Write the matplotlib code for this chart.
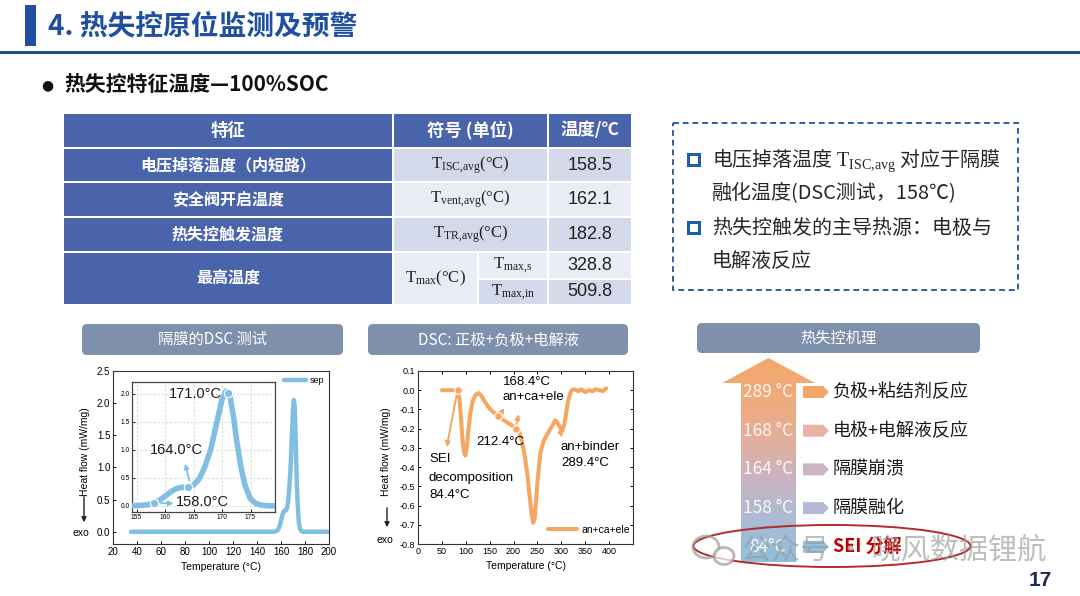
import numpy as np
import matplotlib
matplotlib.use('Agg')
import matplotlib.pyplot as plt
from matplotlib.patches import Rectangle, FancyBboxPatch, Polygon, Ellipse
from matplotlib.colors import LinearSegmentedColormap
from matplotlib.ticker import FormatStrFormatter

plt.rcParams['font.family'] = ['Noto Sans CJK SC', 'DejaVu Sans']
plt.rcParams['mathtext.fontset'] = 'custom'
plt.rcParams['mathtext.rm'] = 'Liberation Serif'
plt.rcParams['mathtext.it'] = 'Liberation Serif:italic'
plt.rcParams['mathtext.bf'] = 'Liberation Serif:bold'

# ---------------- data ----------------
title_text = '4. 热失控原位监测及预警'
subtitle_text = '热失控特征温度—100%SOC'

table_header = ['特征', '符号 (单位)', '温度/℃']
features = ['电压掉落温度（内短路）', '安全阀开启温度', '热失控触发温度', '最高温度']
symbols = [r'$\mathrm{T}_{\mathrm{ISC{,}avg}}$(°C)', r'$\mathrm{T}_{\mathrm{vent{,}avg}}$(°C)',
           r'$\mathrm{T}_{\mathrm{TR{,}avg}}$(°C)', r'$\mathrm{T}_{\mathrm{max}}$(°C)']
max_sub_symbols = [r'$\mathrm{T}_{\mathrm{max{,}s}}$', r'$\mathrm{T}_{\mathrm{max{,}in}}$']
temperatures = ['158.5', '162.1', '182.8']
max_temperatures = ['328.8', '509.8']

note_bullet1 = [r'电压掉落温度 $\mathrm{T}_{\mathrm{ISC{,}avg}}$ 对应于隔膜', '融化温度(DSC测试，158℃)']
note_bullet2 = ['热失控触发的主导热源：电极与', '电解液反应']

section_titles = ['隔膜的DSC 测试', 'DSC: 正极+负极+电解液', '热失控机理']

# separator DSC
sep_T = [35, 60, 100, 140, 150, 154, 156, 157, 158, 159, 160, 161, 162, 163, 164, 165, 166, 167,
         168, 169, 170, 170.7, 171.4, 172, 172.6, 173.3, 174, 175, 176, 177, 178, 180, 190, 200]
sep_HF = [0.0, 0.0, 0.0, 0.0, 0.0, 0.0, 0.01, 0.02, 0.05, 0.10, 0.17, 0.25, 0.31, 0.33, 0.33, 0.37,
          0.48, 0.70, 1.00, 1.45, 1.90, 2.05, 1.95, 1.60, 1.15, 0.70, 0.38, 0.12, 0.04, 0.01, 0.0,
          0.0, 0.0, 0.0]
sep_mark_T = [158.0, 164.0, 171.0]
sep_mark_labels = ['158.0°C', '164.0°C', '171.0°C']

# full-cell DSC
dsc_T = [50, 60, 70, 80, 84.4, 87, 90, 93, 96, 99, 102, 105, 109, 114, 120, 127, 133, 140, 148, 156,
         163, 168.4, 176, 185, 195, 205, 212, 218, 224, 229, 234, 238, 241, 244, 247, 251, 256, 262,
         268, 275, 282, 287.5, 292, 297, 302, 306, 310, 314, 318, 322, 328, 335, 342, 350, 358, 365,
         372, 380, 387, 394]
dsc_HF = [0, 0, 0, 0, 0, -0.05, -0.15, -0.25, -0.32, -0.34, -0.30, -0.22, -0.13, -0.06, -0.025,
          -0.015, -0.03, -0.06, -0.09, -0.11, -0.125, -0.135, -0.15, -0.165, -0.18, -0.2, -0.22,
          -0.27, -0.35, -0.44, -0.56, -0.65, -0.69, -0.67, -0.58, -0.45, -0.33, -0.27, -0.24, -0.21,
          -0.18, -0.157, -0.17, -0.19, -0.21, -0.18, -0.12, -0.06, -0.02, 0.0, 0.005, -0.005, 0.005,
          -0.01, 0.0, -0.005, 0.005, 0.0, -0.005, 0.01]
dsc_mark_T = [84.4, 168.4, 205.0]

mech_temps = ['289 °C', '168 °C', '164 °C', '158 °C', '84°C']
mech_labels = ['负极+粘结剂反应', '电极+电解液反应', '隔膜崩溃', '隔膜融化', 'SEI 分解']
mech_tag_colors = ['#f3a66a', '#e8b2a4', '#cdb5c6', '#b6b9d6', '#8fc0dd']
mech_label_colors = ['#1a1a1a', '#1a1a1a', '#1a1a1a', '#1a1a1a', '#c00000']

watermark = '公众号 · 晓风数据锂航'
page_no = '17'

# ---------------- styles ----------------
W, H = 1080, 596
NAVY = '#1f4f9e'
TBL_DARK = '#4a64ac'
TBL_L1 = '#d3d9eb'
TBL_L2 = '#e9ecf5'
PILL = '#7f90ad'
SEP_C = '#80bfe2'
DSC_C = '#f5a660'
CH_FONT = ['Liberation Sans', 'DejaVu Sans']

fig = plt.figure(figsize=(W / 100, H / 100), dpi=100)
bg = fig.add_axes([0, 0, 1, 1])
bg.set_xlim(0, W)
bg.set_ylim(H, 0)
bg.axis('off')


def px_axes(x0, y0, x1, y1):
    return fig.add_axes([x0 / W, 1 - y1 / H, (x1 - x0) / W, (y1 - y0) / H])


# ---------------- header ----------------
bg.add_patch(Rectangle((25, 5), 11, 41, fc=NAVY, ec='none'))
bg.text(48, 26, title_text, fontsize=20, fontweight='bold', color=NAVY, va='center', ha='left')
bg.add_patch(Rectangle((0, 51), W, 3, fc='#1f4e8c', ec='none'))

bg.text(47, 85, '●', fontsize=10, color='#111111', va='center', ha='center', family='DejaVu Sans')
bg.text(64, 84, subtitle_text, fontsize=15, fontweight='bold', color='#111111', va='center', ha='left')

# ---------------- table ----------------
cx = [63, 393, 548, 632]
split_x = 478
ry = [113, 148, 182, 217, 252, 305]
sub_y = [252, 279, 305]
gap = 1.2


def cell(x0, y0, x1, y1, fc):
    bg.add_patch(Rectangle((x0 + gap, y0 + gap), x1 - x0 - 2 * gap, y1 - y0 - 2 * gap, fc=fc, ec='none'))


for j in range(3):
    cell(cx[j], ry[0], cx[j + 1], ry[1], TBL_DARK)
    bg.text((cx[j] + cx[j + 1]) / 2, (ry[0] + ry[1]) / 2, table_header[j], fontsize=12.5,
            fontweight='bold', color='white', ha='center', va='center')

light = [TBL_L1, TBL_L2, TBL_L1]
for i in range(3):
    y0, y1 = ry[i + 1], ry[i + 2]
    cell(cx[0], y0, cx[1], y1, TBL_DARK)
    cell(cx[1], y0, cx[2], y1, light[i])
    cell(cx[2], y0, cx[3], y1, light[i])
    ym = (y0 + y1) / 2
    bg.text((cx[0] + cx[1]) / 2, ym, features[i], fontsize=11.5, fontweight='bold', color='white',
            ha='center', va='center')
    bg.text((cx[1] + cx[2]) / 2, ym, symbols[i], fontsize=12, family='Liberation Serif',
            color='#222222', ha='center', va='center')
    bg.text((cx[2] + cx[3]) / 2, ym, temperatures[i], fontsize=13,
            family=['Liberation Sans Narrow', 'Liberation Sans'], color='#222222', ha='center', va='center')

# last (merged) row
cell(cx[0], ry[4], cx[1], ry[5], TBL_DARK)
bg.text((cx[0] + cx[1]) / 2, (ry[4] + ry[5]) / 2, features[3], fontsize=11.5, fontweight='bold',
        color='white', ha='center', va='center')
cell(cx[1], ry[4], split_x, ry[5], TBL_L2)
bg.text((cx[1] + split_x) / 2, (ry[4] + ry[5]) / 2, symbols[3], fontsize=12, family='Liberation Serif',
        color='#222222', ha='center', va='center')
sub_col = [TBL_L2, TBL_L1]
for k in range(2):
    y0, y1 = sub_y[k], sub_y[k + 1]
    cell(split_x, y0, cx[2], y1, sub_col[k])
    cell(cx[2], y0, cx[3], y1, sub_col[k])
    bg.text((split_x + cx[2]) / 2, (y0 + y1) / 2, max_sub_symbols[k], fontsize=12,
            family='Liberation Serif', color='#222222', ha='center', va='center')
    bg.text((cx[2] + cx[3]) / 2, (y0 + y1) / 2, max_temperatures[k], fontsize=13,
            family=['Liberation Sans Narrow', 'Liberation Sans'], color='#222222', ha='center', va='center')

# ---------------- note box ----------------
bg.add_patch(Rectangle((673, 123), 345, 167, fc='none', ec='#2f5f9f', lw=1.4, ls=(0, (3, 2))))
note_y = [160, 193, 228, 261]
lines = note_bullet1 + note_bullet2
for y, t in zip(note_y, lines):
    bg.text(712, y, t, fontsize=14.4, color='#262626', ha='left', va='center')
for y in (note_y[0], note_y[2]):
    bg.add_patch(Rectangle((688, y - 6), 11, 11, fc='white', ec='#1f5fa8', lw=2.2))

# ---------------- section pills ----------------
pills = [(82, 324, 343, 355), (368, 324, 628, 355), (697, 323, 980, 353)]
for (x0, y0, x1, y1), t in zip(pills, section_titles):
    bg.add_patch(FancyBboxPatch((x0, y0), x1 - x0, y1 - y0, boxstyle='round,pad=0,rounding_size=5',
                                fc=PILL, ec='none'))
    bg.text((x0 + x1) / 2, (y0 + y1) / 2, t, fontsize=11, color='white', ha='center', va='center')

# ---------------- left chart: separator DSC ----------------
ax1 = px_axes(113, 371, 329, 544)
ax1.plot(sep_T, sep_HF, color=SEP_C, lw=3.2, solid_capstyle='round', label='sep')
ax1.set_xlim(20, 200)
ax1.set_ylim(-0.19, 2.5)
ax1.set_xticks(np.arange(20, 201, 20))
ax1.set_yticks(np.arange(0, 2.51, 0.5))
ax1.yaxis.set_major_formatter(FormatStrFormatter('%.1f'))
ax1.tick_params(direction='in', length=2.5, width=0.7, labelsize=7, pad=2)
for lab in ax1.get_xticklabels() + ax1.get_yticklabels():
    lab.set_family(CH_FONT)
for s in ax1.spines.values():
    s.set_linewidth(0.8)
    s.set_color('#333333')
ax1.set_xlabel('Temperature (°C)', fontsize=7.5, family=CH_FONT, labelpad=4)
ax1.legend(loc='upper right', frameon=False, prop={'family': CH_FONT, 'size': 6.5},
           handlelength=2.4, borderaxespad=0.15, handletextpad=0.4)

ax1i = px_axes(132, 382, 275, 512)
ax1i.plot(sep_T, sep_HF, color=SEP_C, lw=4, solid_capstyle='round', zorder=3)
mk_y = np.interp(sep_mark_T, sep_T, sep_HF)
ax1i.plot(sep_mark_T, mk_y, 'o', ms=6, mfc=SEP_C, mec='white', mew=0.8, zorder=4)
ax1i.set_xlim(154.2, 179.3)
ax1i.set_ylim(-0.11, 2.21)
ax1i.set_xticks(np.arange(155, 176, 5))
ax1i.set_yticks(np.arange(0, 2.01, 0.5))
ax1i.yaxis.set_major_formatter(FormatStrFormatter('%.1f'))
ax1i.tick_params(direction='in', length=2, width=0.6, labelsize=4.8, pad=1.5)
for lab in ax1i.get_xticklabels() + ax1i.get_yticklabels():
    lab.set_family(CH_FONT)
ax1i.grid(True, color='#d6d6d6', lw=0.6, ls=(0, (3, 2)))
for s in ax1i.spines.values():
    s.set_linewidth(0.9)
    s.set_color('#444444')
ap = dict(arrowstyle='-|>', color=SEP_C, lw=1.3, mutation_scale=7)
ax1i.annotate('', xy=(163.4, 0.80), xytext=(164.4, 0.40), arrowprops=ap)
ax1i.annotate('', xy=(162.0, 0.04), xytext=(158.8, 0.05), arrowprops=ap)
ax1i.text(160.6, 2.0, sep_mark_labels[2], fontsize=10.5, family=CH_FONT, color='#1a1a1a', va='center')
ax1i.text(157.4, 0.99, sep_mark_labels[1], fontsize=10.5, family=CH_FONT, color='#1a1a1a', va='center')
ax1i.text(161.9, 0.07, sep_mark_labels[0], fontsize=10.5, family=CH_FONT, color='#1a1a1a', va='center')

# y label with exo arrow
bg.text(85, 452, 'Heat flow (mW/mg)', rotation=90, fontsize=7.5, family=CH_FONT, ha='center', va='center')
bg.annotate('', xy=(84, 525), xytext=(84, 494), arrowprops=dict(arrowstyle='-|>', color='#222222', lw=1,
                                                                 mutation_scale=7))
bg.text(81, 533, 'exo', fontsize=7.5, family=CH_FONT, ha='center', va='center')

# ---------------- middle chart: full cell DSC ----------------
ax2 = px_axes(418, 371, 633, 544)
ax2.plot(dsc_T, dsc_HF, color=DSC_C, lw=2.9, solid_capstyle='round', label='an+ca+ele', zorder=3)
dm_y = np.interp(dsc_mark_T, dsc_T, dsc_HF)
ax2.plot(dsc_mark_T, dm_y, 'o', ms=5.5, mfc=DSC_C, mec='white', mew=0.8, zorder=4)
ax2.set_xlim(0, 450)
ax2.set_ylim(-0.8, 0.1)
ax2.set_xticks(np.arange(0, 401, 50))
ax2.set_yticks(np.arange(-8, 2) / 10)
ax2.yaxis.set_major_formatter(FormatStrFormatter('%.1f'))
ax2.tick_params(direction='in', length=2.5, width=0.7, labelsize=6.5, pad=2, top=True, right=True)
for lab in ax2.get_xticklabels() + ax2.get_yticklabels():
    lab.set_family(CH_FONT)
for s in ax2.spines.values():
    s.set_linewidth(0.8)
    s.set_color('#333333')
ax2.set_xlabel('Temperature (°C)', fontsize=7.5, family=CH_FONT, labelpad=4)
ax2.legend(loc='lower right', frameon=False, prop={'family': CH_FONT, 'size': 7.5},
           handlelength=2.8, borderaxespad=0.5, handletextpad=0.4, bbox_to_anchor=(1.03, 0.0))
ap2 = dict(arrowstyle='-|>', color=DSC_C, lw=1.4, mutation_scale=7)
ax2.annotate('', xy=(59, -0.31), xytext=(82, -0.01), arrowprops=ap2)
ax2.annotate('', xy=(184, -0.08), xytext=(171, -0.13), arrowprops=ap2)
ax2.annotate('', xy=(212, -0.11), xytext=(205, -0.19), arrowprops=ap2)
ax2.annotate('', xy=(303, -0.26), xytext=(295, -0.19), arrowprops=ap2)
fs_ann = 9.5
ax2.text(23, -0.36, 'SEI', fontsize=fs_ann, family=CH_FONT, va='center')
ax2.text(23, -0.458, 'decomposition', fontsize=fs_ann, family=CH_FONT, va='center')
ax2.text(23, -0.545, '84.4°C', fontsize=fs_ann, family=CH_FONT, va='center')
ax2.text(177, 0.043, '168.4°C', fontsize=fs_ann, family=CH_FONT, va='center')
ax2.text(177, -0.035, 'an+ca+ele', fontsize=fs_ann, family=CH_FONT, va='center')
ax2.text(123, -0.268, '212.4°C', fontsize=fs_ann, family=CH_FONT, va='center')
ax2.text(299, -0.297, 'an+binder', fontsize=fs_ann, family=CH_FONT, va='center')
ax2.text(299, -0.38, '289.4°C', fontsize=fs_ann, family=CH_FONT, va='center')

bg.text(386, 452, 'Heat flow (mW/mg)', rotation=90, fontsize=7.5, family=CH_FONT, ha='center', va='center')
bg.annotate('', xy=(387, 530), xytext=(387, 505), arrowprops=dict(arrowstyle='-|>', color='#222222', lw=1,
                                                                  mutation_scale=7))
bg.text(385, 540, 'exo', fontsize=7.5, family=CH_FONT, ha='center', va='center')

# ---------------- right: mechanism arrow ----------------
arrow_pts = [(768.5, 358), (815, 383), (796, 383), (796, 562), (741, 562), (741, 383), (722, 383)]
poly = Polygon(arrow_pts, closed=True, transform=bg.transData, fc='none', ec='none')
bg.add_patch(poly)
cmap = LinearSegmentedColormap.from_list('g', ['#f4a86a', '#f0aa7c', '#e4af9c', '#c9b4c2', '#abbcd4', '#8dbfdc'])
grad = np.linspace(0, 1, 256).reshape(-1, 1)
im = bg.imshow(grad, cmap=cmap, extent=[722, 815, 562, 358], aspect='auto', zorder=2, interpolation='bilinear')
im.set_clip_path(poly)
bg.set_xlim(0, W)
bg.set_ylim(H, 0)

mech_y0, mech_dy = 392, 38.7
for i, (t, lab, tc, lc) in enumerate(zip(mech_temps, mech_labels, mech_tag_colors, mech_label_colors)):
    y = mech_y0 + i * mech_dy
    bg.text(768, y, t, fontsize=12.5, color='white', alpha=0.9, ha='center', va='center', zorder=3)
    bg.add_patch(Polygon([(803, y - 6), (823, y - 6), (829, y), (823, y + 6), (803, y + 6)], closed=True,
                         fc=tc, ec='none', zorder=3))
    bg.text(833, y, lab, fontsize=13, color=lc, ha='left', va='center', zorder=3,
            fontweight='bold' if i == 4 else 'normal')

bg.add_patch(Ellipse((832, 546), 277, 42, fc='none', ec='#b22a2a', lw=1.4, zorder=4))

# watermark
bg.add_patch(Ellipse((706, 547), 26, 22, fc='none', ec='#9a9a9a', lw=2, alpha=0.7, zorder=5))
bg.add_patch(Ellipse((724, 556), 20, 17, fc='white', ec='#9a9a9a', lw=2, alpha=0.7, zorder=5))
bg.text(742, 550, watermark, fontsize=21, color='#9a9a9a', alpha=0.65, ha='left', va='center', zorder=5)

bg.text(1040, 580, page_no, fontsize=15, fontweight='bold', color='#1b2a55', ha='center', va='center',
        family=CH_FONT)

fig.savefig('out.png', dpi=100)
